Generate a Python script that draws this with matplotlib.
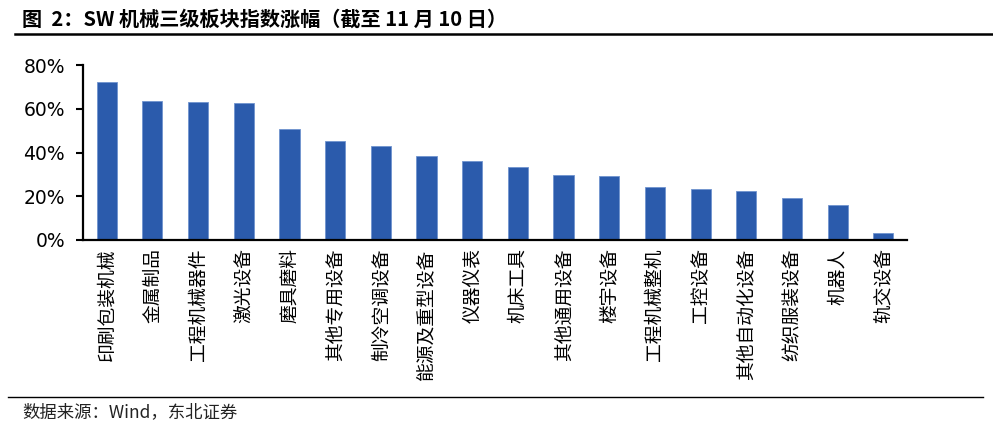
import matplotlib
matplotlib.use('Agg')
import matplotlib.pyplot as plt
from matplotlib.lines import Line2D
from matplotlib.ticker import FuncFormatter

plt.rcParams['font.family'] = ['Noto Sans CJK SC', 'DejaVu Sans']

# 数据（截至11月10日）
sectors = ['印刷包装机械', '金属制品', '工程机械器件', '激光设备', '磨具磨料',
           '其他专用设备', '制冷空调设备', '能源及重型设备', '仪器仪表', '机床工具',
           '其他通用设备', '楼宇设备', '工程机械整机', '工控设备', '其他自动化设备',
           '纺织服装设备', '机器人', '轨交设备']
gains = [72.2, 63.5, 63.1, 62.8, 50.8, 45.5, 43.0, 38.4, 36.1, 33.4,
         29.7, 29.5, 24.3, 23.4, 22.5, 19.1, 15.8, 3.4]
yticks = [0, 20, 40, 60, 80]

fig = plt.figure(figsize=(9.93, 4.29), dpi=100)
ax = fig.add_axes([0.0836, 0.4406, 0.8298, 0.4074])

x = range(len(sectors))
ax.bar(x, gains, width=0.44, color='#2B5BAC', edgecolor='#6F93CF', linewidth=0.6, zorder=2)

ax.set_xlim(-0.52, len(sectors) - 0.48)
ax.set_ylim(0, 80)
ax.set_yticks(yticks)
ax.yaxis.set_major_formatter(FuncFormatter(lambda v, p: '%d%%' % v))
ax.set_xticks(list(x))
ax.set_xticklabels(sectors, rotation=90, fontsize=13.5)
ax.tick_params(axis='x', length=0, pad=6)
ax.tick_params(axis='y', length=5, width=1.5, labelsize=13.5, pad=8, direction='out')
for lab in ax.get_yticklabels():
    lab.set_family(['DejaVu Sans'])

for s in ['top', 'right']:
    ax.spines[s].set_visible(False)
for s in ['left', 'bottom']:
    ax.spines[s].set_linewidth(1.6)
    ax.spines[s].set_color('black')

# 标题和来源
fig.text(0.022, 0.955, '图  2：SW 机械三级板块指数涨幅（截至 11 月 10 日）',
         fontsize=14.5, fontweight='bold', va='center', ha='left')
fig.add_artist(Line2D([0.015, 1.0], [0.921, 0.921], color='black', linewidth=1.8,
                      transform=fig.transFigure))
fig.add_artist(Line2D([0.008, 0.99], [0.075, 0.075], color='black', linewidth=1.0,
                      transform=fig.transFigure))
fig.text(0.022, 0.040, '数据来源：Wind，东北证券', fontsize=12.5, va='center', ha='left',
         color='#222222')

fig.savefig('out.png', dpi=100)
